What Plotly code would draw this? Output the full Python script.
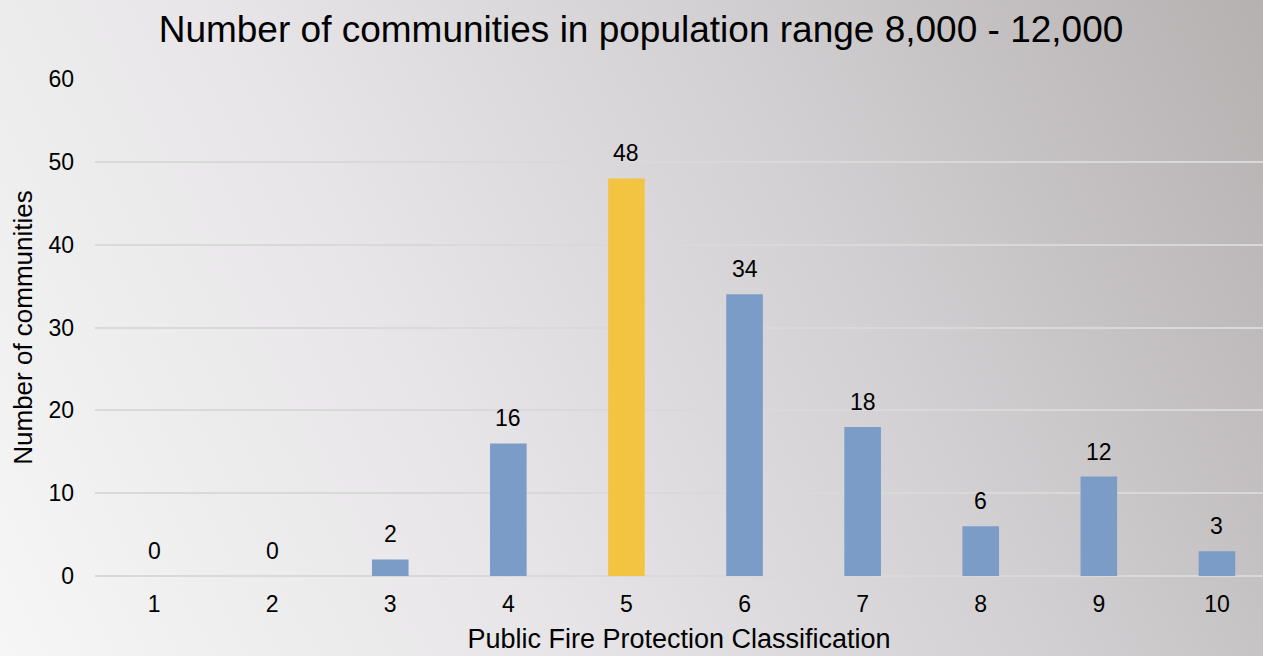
import base64
import plotly.graph_objects as go

categories = ["1", "2", "3", "4", "5", "6", "7", "8", "9", "10"]
values = [0, 0, 2, 16, 48, 34, 18, 6, 12, 3]
highlight = "5"
y_ticks = [0, 10, 20, 30, 40, 50, 60]

BLUE = "rgb(122,156,199)"
GOLD = "rgb(243,196,64)"
colors = [GOLD if c == highlight else BLUE for c in categories]
xs = [int(c) for c in categories]

W, H = 1263, 656
ML, MR, MT, MB = 95, 0, 79, 80
pw, ph = W - ML - MR, H - MT - MB
FONT = "Arial, Liberation Sans, Helvetica, sans-serif"

svg = f'''<svg xmlns="http://www.w3.org/2000/svg" width="{W}" height="{H}" viewBox="0 0 {W} {H}" preserveAspectRatio="none">
<defs><linearGradient id="g" gradientUnits="userSpaceOnUse" x1="0" y1="{H}" x2="{W}" y2="0">
<stop offset="0" stop-color="#f6f6f6"/>
<stop offset="0.35" stop-color="#e7e5e7"/>
<stop offset="0.65" stop-color="#d3d0d3"/>
<stop offset="1" stop-color="#b5b1b1"/>
</linearGradient></defs>
<rect x="0" y="0" width="{W}" height="{H}" fill="url(#g)"/></svg>'''
src = "data:image/svg+xml;base64," + base64.b64encode(svg.encode()).decode()

fig = go.Figure()
fig.add_trace(go.Bar(x=xs, y=values, marker=dict(color=colors, line=dict(width=0)),
                     width=0.31, hoverinfo="x+y"))

for x, v in zip(xs, values):
    fig.add_annotation(x=x, y=v, text=str(v), showarrow=False, yanchor="middle",
                       yshift=25, font=dict(size=23, color="#000000", family=FONT))

fig.add_layout_image(dict(source=src, xref="paper", yref="paper",
                          x=-ML / pw, y=1 + MT / ph, sizex=W / pw, sizey=H / ph,
                          xanchor="left", yanchor="top", sizing="stretch", layer="below"))

fig.update_layout(
    width=W, height=H,
    margin=dict(l=ML, r=MR, t=MT, b=MB),
    paper_bgcolor="#dcdcdc", plot_bgcolor="rgba(0,0,0,0)",
    font=dict(family=FONT, color="#000000", size=23),
    title=dict(text="Number of communities in population range 8,000 - 12,000",
               x=(641 - ML) / pw, xref="paper", xanchor="center", y=1 - 29 / H, yanchor="middle",
               font=dict(size=37)),
    showlegend=False,
    xaxis=dict(tickmode="array", tickvals=xs, ticktext=categories, range=[0.5, 10.39],
               showgrid=False, zeroline=False, showline=False, ticks="",
               tickfont=dict(size=23), ticklabelstandoff=12,
               title=dict(text="Public Fire Protection Classification", font=dict(size=27), standoff=13)),
    yaxis=dict(range=[0, 60], tickvals=y_ticks, showgrid=True, gridcolor="#d9d9d9", gridwidth=1.5,
               zeroline=True, zerolinecolor="#d9d9d9", zerolinewidth=1.5,
               tickfont=dict(size=23), ticks="", ticklabelstandoff=20,
               title=dict(text="Number of communities", font=dict(size=26), standoff=8)),
)

fig.write_html("out.html", config={"displayModeBar": False},
               post_script="document.body.style.margin='0';document.body.style.overflow='hidden';")
